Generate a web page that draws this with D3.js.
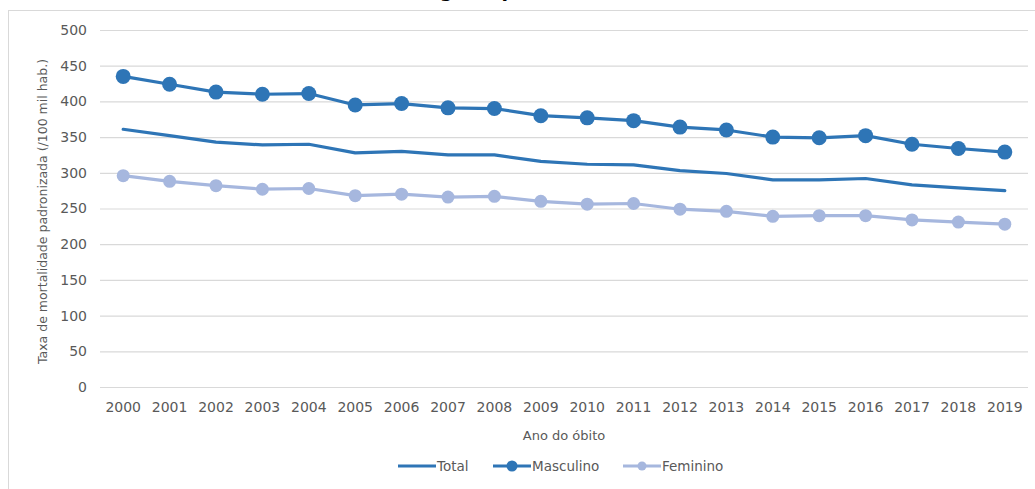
<!DOCTYPE html>
<html>
<head>
<meta charset="utf-8">
<script src="https://cdn.jsdelivr.net/npm/d3@7"></script>
<style>
  html, body { margin: 0; padding: 0; background: #fff; }
  svg { display: block; font-family: "DejaVu Sans", sans-serif; }
</style>
</head>
<body>
<svg id="chart" width="1035" height="489"></svg>
<script>
// Standardised mortality rate per 100k inhabitants, by sex, 2000–2019
const years = ["2000","2001","2002","2003","2004","2005","2006","2007","2008","2009",
               "2010","2011","2012","2013","2014","2015","2016","2017","2018","2019"];
const total = [361, 352, 343, 339, 340, 328, 330, 325, 325, 316,
               312, 311, 303, 299, 290, 290, 292, 283, 279, 275];
const masculino = [435, 424, 413, 410, 411, 395, 397, 391, 390, 380,
                   377, 373, 364, 360, 350, 349, 352, 340, 334, 329];
const feminino = [296, 288, 282, 277, 278, 268, 270, 266, 267, 260,
                  256, 257, 249, 246, 239, 240, 240, 234, 231, 228];
const yTicks = [0, 50, 100, 150, 200, 250, 300, 350, 400, 450, 500];

const series = [
  { name: "Total", values: total, color: "#2e75b6", r: 0 },
  { name: "Masculino", values: masculino, color: "#2e75b6", r: 7.5 },
  { name: "Feminino", values: feminino, color: "#a6b7de", r: 6.5 }
];

const svg = d3.select("#chart");
const textColor = "#595959";
const gridColor = "#d9d9d9";

// Chart frame
svg.append("rect")
  .attr("x", 8.5).attr("y", 10.5)
  .attr("width", 1040).attr("height", 500)
  .attr("fill", "#fff").attr("stroke", gridColor).attr("stroke-width", 1);

// Title (sits above the frame, running off the top edge)
svg.append("text")
  .attr("x", 540).attr("y", -3)
  .attr("text-anchor", "middle")
  .attr("font-size", 19).attr("font-weight", "bold").attr("fill", "#000")
  .text("Taxa de mortalidade geral padronizada, Brasil (2000 a 2019)");

const plot = { left: 100, right: 1028, top: 30, bottom: 387 };

const x = d3.scaleBand().domain(years).range([plot.left, plot.right]);
const y = d3.scaleLinear().domain([0, 500]).range([plot.bottom, plot.top]);

// Horizontal gridlines + y labels
const yAxis = d3.axisLeft(y).tickValues(yTicks).tickSize(-(plot.right - plot.left)).tickPadding(13);
const gy = svg.append("g").attr("transform", `translate(${plot.left},0)`).call(yAxis);
gy.select(".domain").remove();
gy.selectAll(".tick line").attr("stroke", gridColor).attr("stroke-width", 1.2);
gy.selectAll(".tick text").attr("fill", textColor).attr("font-size", 14)
  .attr("font-family", "DejaVu Sans, sans-serif");

// X labels
const xAxis = d3.axisBottom(x).tickSize(0).tickPadding(15);
const gx = svg.append("g").attr("transform", `translate(0,${plot.bottom})`).call(xAxis);
gx.select(".domain").remove();
gx.selectAll(".tick text").attr("fill", textColor).attr("font-size", 14)
  .attr("font-family", "DejaVu Sans, sans-serif");

// Axis titles
svg.append("text")
  .attr("transform", `translate(47,${(plot.top + plot.bottom) / 2 + 3}) rotate(-90)`)
  .attr("text-anchor", "middle").attr("font-size", 12.5).attr("fill", textColor)
  .text("Taxa de mortalidade padronizada (/100 mil hab.)");

svg.append("text")
  .attr("x", (plot.left + plot.right) / 2).attr("y", 440)
  .attr("text-anchor", "middle").attr("font-size", 13).attr("fill", textColor)
  .text("Ano do óbito");

// Lines and markers
const cx = d => x(d) + x.bandwidth() / 2;
const line = d3.line().x((v, i) => cx(years[i])).y(v => y(v));

const drawOrder = [series[2], series[0], series[1]];
drawOrder.forEach(s => {
  svg.append("path")
    .attr("d", line(s.values))
    .attr("fill", "none").attr("stroke", s.color)
    .attr("stroke-width", 3.2).attr("stroke-linejoin", "round").attr("stroke-linecap", "round");
  if (s.r > 0) {
    svg.append("g").selectAll("circle").data(s.values).join("circle")
      .attr("cx", (v, i) => cx(years[i])).attr("cy", v => y(v))
      .attr("r", s.r).attr("fill", s.color);
  }
});

// Legend
const legendY = 466;
const legendItems = [
  { s: series[0], x0: 398 },
  { s: series[1], x0: 493 },
  { s: series[2], x0: 623 }
];
legendItems.forEach(({ s, x0 }) => {
  const g = svg.append("g");
  g.append("line").attr("x1", x0).attr("x2", x0 + 38)
    .attr("y1", legendY).attr("y2", legendY)
    .attr("stroke", s.color).attr("stroke-width", 3.2);
  if (s.r > 0) {
    g.append("circle").attr("cx", x0 + 19).attr("cy", legendY)
      .attr("r", s.r - 2).attr("fill", s.color);
  }
  g.append("text").attr("x", x0 + 39).attr("y", legendY + 5)
    .attr("font-size", 13.5).attr("fill", textColor).text(s.name);
});
</script>
</body>
</html>
